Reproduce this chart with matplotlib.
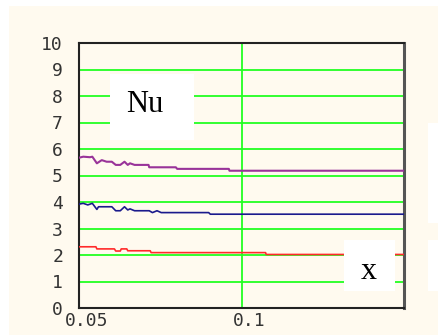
import matplotlib
matplotlib.use("Agg")
import matplotlib.pyplot as plt
from matplotlib.patches import Rectangle
import matplotlib.transforms as mtransforms

# ---- data ----
x_purple = [0.050, 0.0513, 0.0534, 0.0541, 0.0555, 0.0570, 0.0585, 0.0601, 0.0613, 0.0627,
            0.0640, 0.0650, 0.0657, 0.0671, 0.0714, 0.0716, 0.0798, 0.0802, 0.0961, 0.0963, 0.150]
y_purple = [5.67, 5.71, 5.69, 5.71, 5.46, 5.58, 5.52, 5.52, 5.40, 5.40,
            5.52, 5.40, 5.46, 5.40, 5.40, 5.31, 5.31, 5.25, 5.25, 5.18, 5.18]

x_blue = [0.050, 0.0513, 0.0527, 0.0541, 0.0555, 0.0560, 0.0601, 0.0613, 0.0627, 0.0640,
          0.0650, 0.0657, 0.0671, 0.0716, 0.0726, 0.0740, 0.0753, 0.0899, 0.0904, 0.150]
y_blue = [3.92, 3.95, 3.89, 3.95, 3.72, 3.82, 3.82, 3.67, 3.67, 3.82,
          3.70, 3.74, 3.67, 3.67, 3.60, 3.67, 3.60, 3.60, 3.54, 3.54]

x_red = [0.050, 0.0552, 0.0555, 0.0609, 0.0613, 0.0627, 0.0630, 0.0647, 0.0650, 0.0719,
         0.0722, 0.1074, 0.1076, 0.150]
y_red = [2.31, 2.31, 2.23, 2.23, 2.15, 2.15, 2.23, 2.23, 2.16, 2.16,
         2.09, 2.09, 2.02, 2.02]

x_ticks = [0.05, 0.1]
x_ticklabels = ["0.05", "0.1"]
y_ticks = list(range(0, 11))
y_ticklabels = [str(v) for v in y_ticks]

W, H = 438, 335
fig = plt.figure(figsize=(W / 100, H / 100), dpi=100, facecolor="white")

def fx(px):
    return px / W

def fy(py):
    return 1 - py / H

cream = "#fffaef"
fig.patches.append(Rectangle((fx(9), 0), fx(438 - 9), fy(6), transform=fig.transFigure,
                             facecolor=cream, edgecolor="none", zorder=-10))
fig.patches.append(Rectangle((fx(428), fy(223)), fx(10), (223 - 123) / H, transform=fig.transFigure,
                             facecolor="white", edgecolor="none", zorder=-9))
fig.patches.append(Rectangle((fx(428), fy(291)), fx(10), (291 - 240) / H, transform=fig.transFigure,
                             facecolor="white", edgecolor="none", zorder=-9))

ax = fig.add_axes([fx(79), fy(308), fx(404 - 79), (308 - 43) / H])
ax.set_zorder(1)
ax.set_facecolor(cream)
ax.set_xlim(0.05, 0.15)
ax.set_ylim(0, 10)

for v in range(1, 10):
    ax.axhline(v, color="#22ff22", lw=1.3, zorder=1)
ax.axvline(0.1, color="#22ff22", lw=1.3, zorder=1)

ax.plot(x_purple, y_purple, color="#993399", lw=1.5, zorder=3)
ax.plot(x_blue, y_blue, color="#1a1a8c", lw=1.2, zorder=3)
ax.plot(x_red, y_red, color="#ff2a2a", lw=1.2, zorder=3)

ax.set_xticks(x_ticks)
ax.set_xticklabels(x_ticklabels, family="DejaVu Sans Mono", fontsize=13, color="#333333")
ax.set_yticks(y_ticks)
ax.set_yticklabels(y_ticklabels, family="DejaVu Sans Mono", fontsize=13, color="#333333")
ax.tick_params(axis="x", length=0, pad=3)
ax.tick_params(axis="y", length=0, pad=11.5)
offset = mtransforms.ScaledTranslation(8 / 100, 0, fig.dpi_scale_trans)
for lab in ax.get_xticklabels():
    lab.set_transform(lab.get_transform() + offset)

for side in ["left", "top", "bottom"]:
    ax.spines[side].set_color("#222222")
    ax.spines[side].set_linewidth(1.5)
ax.spines["right"].set_color("#555555")
ax.spines["right"].set_linewidth(2.2)

# label boxes (drawn over the lines)
fig.patches.append(Rectangle((fx(110), fy(140)), fx(194 - 110), (140 - 74) / H, transform=fig.transFigure,
                             facecolor="white", edgecolor="none", zorder=5))
fig.patches.append(Rectangle((fx(344), fy(291)), fx(395 - 344), (291 - 240) / H, transform=fig.transFigure,
                             facecolor="white", edgecolor="none", zorder=5))
fig.text(fx(126), fy(112), "Nu", family="Liberation Serif", fontsize=22, color="black",
         ha="left", va="baseline", zorder=6)
fig.text(fx(360.5), fy(279), "x", family="Liberation Serif", fontsize=23, color="black",
         ha="left", va="baseline", zorder=6)

fig.savefig("out.png", dpi=100, facecolor="white")
